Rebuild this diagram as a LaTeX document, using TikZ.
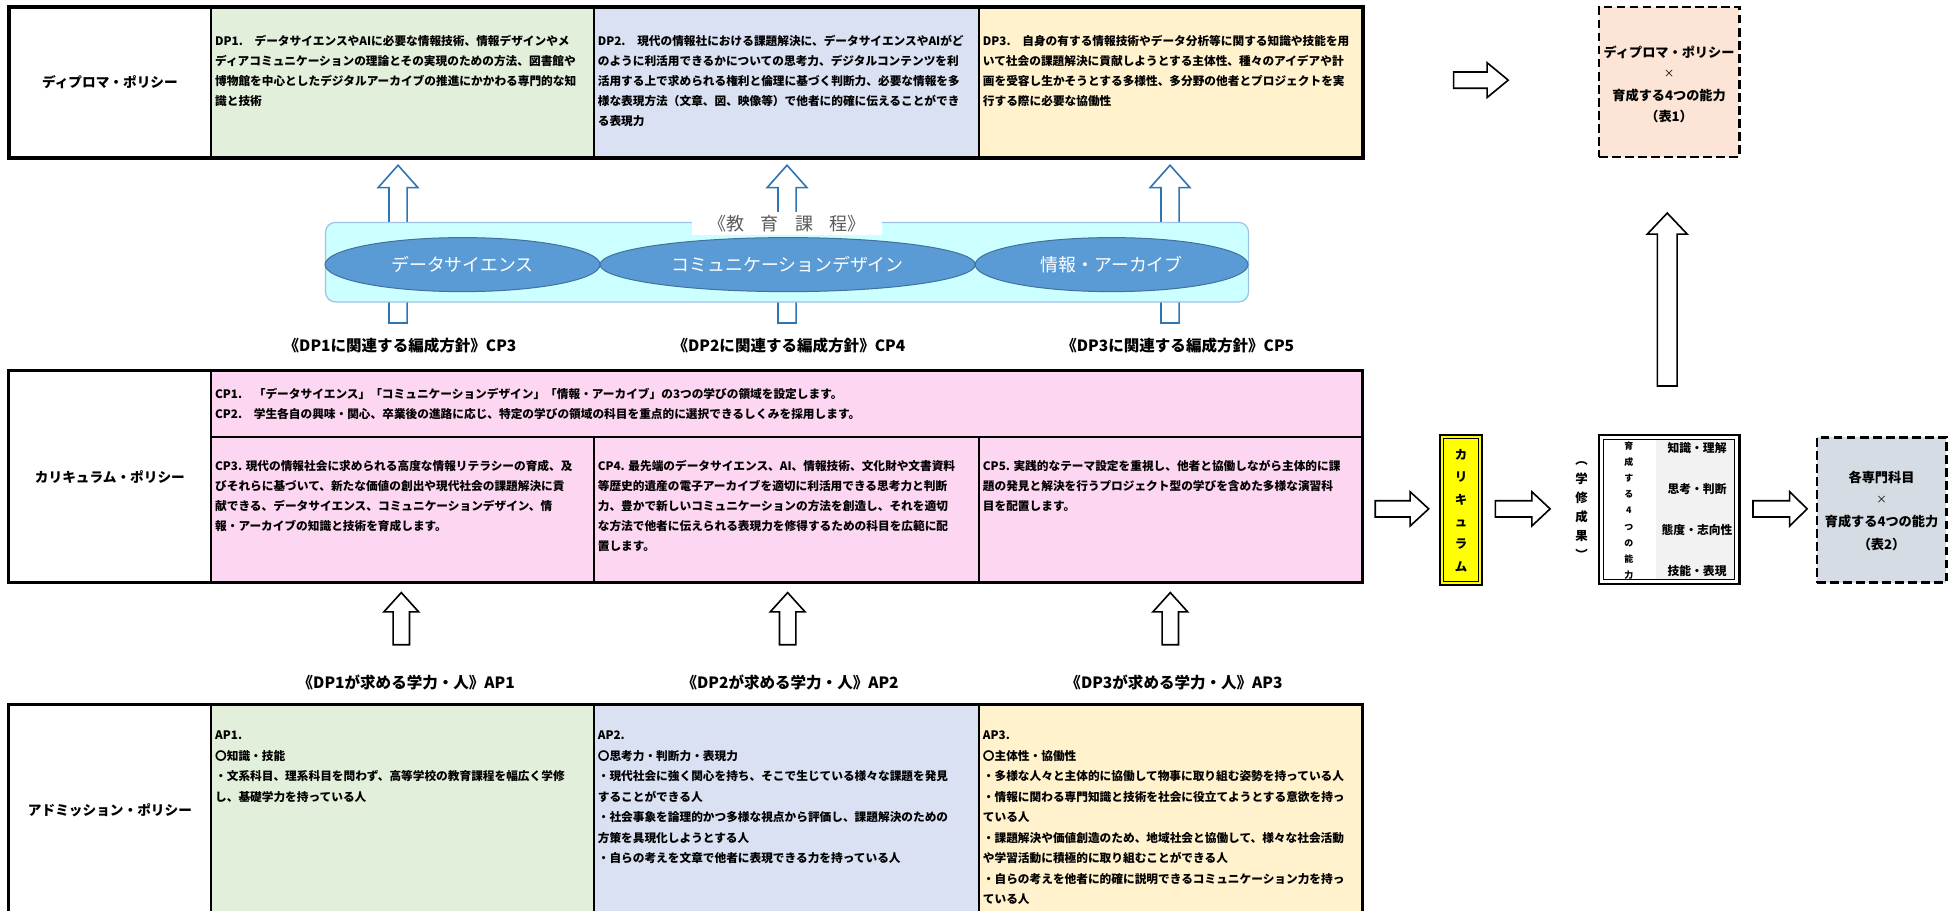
\documentclass[tikz,border=0pt]{standalone}
\usepackage{fontspec}
\setmainfont{Noto Sans CJK JP}
\usetikzlibrary{shapes.geometric}
\definecolor{dpgreen}{HTML}{E2EFDA}
\definecolor{dpblue}{HTML}{D9E1F2}
\definecolor{dpyellow}{HTML}{FFF2CC}
\definecolor{cppink}{HTML}{FDD7F1}
\definecolor{cyanbox}{HTML}{CCFFFF}
\definecolor{cyanline}{HTML}{9DC3E6}
\definecolor{ellfill}{HTML}{5B9BD5}
\definecolor{ellline}{HTML}{41719C}
\definecolor{bluearrow}{HTML}{2E75B6}
\definecolor{peach}{HTML}{FCE4D6}
\definecolor{graybox}{HTML}{D6DCE4}
\definecolor{lightgray}{HTML}{F2F2F2}
\definecolor{labelgray}{HTML}{595959}
\definecolor{ybox}{HTML}{FFFF00}
% up arrow: style, cx, tip y, head-base y, bottom y, half shaft, half head
\newcommand{\uparw}[7]{\draw[#1] (#2,#3) -- (#2+#7,#4) -- (#2+#6,#4) -- (#2+#6,#5) -- (#2-#6,#5) -- (#2-#6,#4) -- (#2-#7,#4) -- cycle;}
% right arrow: style, left x, tip x, head-base x, cy, half shaft, half head
\newcommand{\rtarw}[7]{\draw[#1] (#3,#5) -- (#4,#5-#7) -- (#4,#5-#6) -- (#2,#5-#6) -- (#2,#5+#6) -- (#4,#5+#6) -- (#4,#5+#7) -- cycle;}
\begin{document}
\begin{tikzpicture}[x=1pt,y=-1pt,line join=miter,
  cell/.style={anchor=north west, inner sep=0pt, align=left},
  dpfont/.style={font=\bfseries\fontsize{9.4}{16}\selectfont},
  cpfont/.style={font=\bfseries\fontsize{9.4}{16}\selectfont},
  apfont/.style={font=\bfseries\fontsize{9.4}{16.5}\selectfont},
  rowlabel/.style={inner sep=0pt, font=\bfseries\fontsize{11}{13}\selectfont},
  midlabel/.style={inner sep=0pt, font=\bfseries\fontsize{12.5}{15}\selectfont},
  ell/.style={ellipse, draw=ellline, fill=ellfill, line width=0.8pt, inner sep=0pt, minimum height=43.5, text=white, font=\fontsize{14.4}{16}\selectfont},
  hollow/.style={draw=black, fill=white, line width=1.3pt},
  bluehollow/.style={draw=bluearrow, fill=white, line width=1.3pt},
  dashbox/.style={draw=black, line width=2.2pt, dash pattern=on 7pt off 3.5pt},
  boxtext/.style={inner sep=0pt, font=\bfseries\fontsize{10.6}{13}\selectfont},
  timestext/.style={inner sep=0pt, font=\fontsize{8.5}{10}\selectfont},
  vtext/.style={inner sep=0pt, align=center}
]
\useasboundingbox (0,0) rectangle (1568,733);
\clip (0,0) rectangle (1568,733);
\fill[white] (0,0) rectangle (1568,733);

% ---------------- DP table ----------------
\fill[dpgreen] (170,5.6) rectangle (478,127);
\fill[dpblue] (478,5.6) rectangle (788,127);
\fill[dpyellow] (788,5.6) rectangle (1097,127);
\draw[line width=1.6pt] (170,5.6) -- (170,127) (478,5.6) -- (478,127) (788,5.6) -- (788,127);
\draw[line width=3pt] (7,5.6) rectangle (1097,127);
\node[rowlabel] (dplabel) at (88.5,66) {ディプロマ・ポリシー};
\node[cell,dpfont] (dp1) at (173,25.5) {\strut DP1.　データサイエンスやAIに必要な情報技術、情報デザインやメ\\ディアコミュニケーションの理論とその実現のための方法、図書館や\\博物館を中心としたデジタルアーカイブの推進にかかわる専門的な知\\識と技術};
\node[cell,dpfont] (dp2) at (481,25.5) {\strut DP2.　現代の情報社における課題解決に、データサイエンスやAIがど\\のように利活用できるかについての思考力、デジタルコンテンツを利\\活用する上で求められる権利と倫理に基づく判断力、必要な情報を多\\様な表現方法（文章、図、映像等）で他者に的確に伝えることができ\\る表現力};
\node[cell,dpfont] (dp3) at (791,25.5) {\strut DP3.　自身の有する情報技術やデータ分析等に関する知識や技能を用\\いて社会の課題解決に貢献しようとする主体性、種々のアイデアや計\\画を受容し生かそうとする多様性、多分野の他者とプロジェクトを実\\行する際に必要な協働性};

% right of DP
\rtarw{hollow}{1170}{1214}{1197}{64.5}{6.5}{14}
\node[dashbox, fill=peach, minimum width=113, minimum height=120.8, inner sep=0pt] (dpx) at (1343.5,66) {};
\node[boxtext] (dpx1) at (1343.5,42) {ディプロマ・ポリシー};
\node[timestext] (dpx2) at (1343.5,59.5) {×};
\node[boxtext] (dpx3) at (1343.5,76.5) {育成する4つの能力};
\node[boxtext] (dpx4) at (1343.5,93.5) {（表1）};

% ---------------- Curriculum band ----------------
\uparw{bluehollow}{320.4}{133}{151}{260}{7.3}{16}
\uparw{bluehollow}{633.5}{133}{151}{260}{7.3}{16}
\uparw{bluehollow}{941.8}{133}{151}{260}{7.3}{16}
\node[draw=cyanline, fill=cyanbox, rounded corners=8pt, line width=1pt, minimum width=743, minimum height=64, inner sep=0pt] (band) at (633.5,211) {};
\node[ell, minimum width=221.4] (e1) at (372.3,213) {データサイエンス};
\node[ell, minimum width=302] (e2) at (634,213) {コミュニケーションデザイン};
\node[ell, minimum width=219.6] (e3) at (894.8,213) {情報・アーカイブ};
\node[fill=white, inner sep=0pt, minimum width=153, minimum height=18, text=labelgray, font=\fontsize{14.5}{17}\selectfont] (kyoiku) at (633.5,180) {《教\hspace{0.9em}育\hspace{0.9em}課\hspace{0.9em}程》};

\node[midlabel] (cpl1) at (322,278) {《DP1に関連する編成方針》CP3};
\node[midlabel] (cpl2) at (635,278) {《DP2に関連する編成方針》CP4};
\node[midlabel] (cpl3) at (948,278) {《DP3に関連する編成方針》CP5};

% right column up arrow
\uparw{hollow}{1342}{171.5}{188.4}{310.7}{8}{16}

% ---------------- CP table ----------------
\fill[cppink] (170,298.5) rectangle (1097,469);
\draw[line width=1.6pt] (170,298.5) -- (170,469) (170,352) -- (1097,352) (478,352) -- (478,469) (788,352) -- (788,469);
\draw[line width=2.6pt] (7,298.5) rectangle (1097,469);
\node[rowlabel] (cplabel) at (88.5,384) {カリキュラム・ポリシー};
\node[cell,cpfont] (cp12) at (173,309.4) {\strut CP1.　「データサイエンス」「コミュニケーションデザイン」「情報・アーカイブ」の3つの学びの領域を設定します。\\CP2.　学生各自の興味・関心、卒業後の進路に応じ、特定の学びの領域の科目を重点的に選択できるしくみを採用します。};
\node[cell,cpfont] (cp3) at (173,367.4) {\strut CP3. 現代の情報社会に求められる高度な情報リテラシーの育成、及\\びそれらに基づいて、新たな価値の創出や現代社会の課題解決に貢\\献できる、データサイエンス、コミュニケーションデザイン、情\\報・アーカイブの知識と技術を育成します。};
\node[cell,cpfont] (cp4) at (481,367.4) {\strut CP4. 最先端のデータサイエンス、AI、情報技術、文化財や文書資料\\等歴史的遺産の電子アーカイブを適切に利活用できる思考力と判断\\力、豊かで新しいコミュニケーションの方法を創造し、それを適切\\な方法で他者に伝えられる表現力を修得するための科目を広範に配\\置します。};
\node[cell,cpfont] (cp5) at (791,367.4) {\strut CP5. 実践的なテーマ設定を重視し、他者と協働しながら主体的に課\\題の発見と解決を行うプロジェクト型の学びを含めた多様な演習科\\目を配置します。};

% right side of CP row
\rtarw{hollow}{1107}{1150}{1135}{409.6}{6.5}{13.8}
\fill[ybox] (1159,350) rectangle (1193,471);
\draw[line width=1.6pt] (1159,350) rectangle (1193,471);
\draw[line width=0.7pt] (1162.2,353.2) rectangle (1189.8,467.8);
\node[vtext, font=\bfseries\fontsize{10}{18}\selectfont] (kari) at (1176,411) {カ\\リ\\キ\\ュ\\ラ\\ム};
\rtarw{hollow}{1203.6}{1247.7}{1233}{409.6}{6.5}{13.8}
\node[vtext, font=\bfseries\fontsize{10}{15.2}\selectfont] (gakushu) at (1273,411) {︵\\学\\修\\成\\果\\︶};
\fill[white] (1287,350) rectangle (1400,470);
\fill[lightgray] (1333,353.5) rectangle (1396.5,466.5);
\draw[line width=2pt] (1287,350) rectangle (1400,470);
\draw[line width=0.7pt] (1290.6,353.6) rectangle (1396.4,466.4);
\node[vtext, font=\bfseries\fontsize{7.2}{13}\selectfont] (ikusei) at (1311,411) {育\\成\\す\\る\\4\\つ\\の\\能\\力};
\node[inner sep=0pt, font=\bfseries\fontsize{9.5}{11}\selectfont] (ab1) at (1366,361) {知識・理解};
\node[inner sep=0pt, font=\bfseries\fontsize{9.5}{11}\selectfont] (ab2) at (1366,394) {思考・判断};
\node[inner sep=0pt, font=\bfseries\fontsize{9.5}{11}\selectfont] (ab3) at (1366,427) {態度・志向性};
\node[inner sep=0pt, font=\bfseries\fontsize{9.5}{11}\selectfont] (ab4) at (1366,460) {技能・表現};
\rtarw{hollow}{1411}{1454.6}{1440.5}{409.6}{6.5}{13.8}
\node[dashbox, fill=graybox, minimum width=104, minimum height=117, inner sep=0pt] (senmon) at (1514.5,410.5) {};
\node[boxtext] (sm1) at (1514.5,384) {各専門科目};
\node[timestext] (sm2) at (1514.5,402) {×};
\node[boxtext] (sm3) at (1514.5,420) {育成する4つの能力};
\node[boxtext] (sm4) at (1514.5,438) {（表2）};

% ---------------- AP arrows and labels ----------------
\uparw{hollow}{323}{477}{492.5}{519}{6.6}{14}
\uparw{hollow}{634}{477}{492.5}{519}{6.6}{14}
\uparw{hollow}{942}{477}{492.5}{519}{6.6}{14}
\node[midlabel] (apl1) at (327,549) {《DP1が求める学力・人》AP1};
\node[midlabel] (apl2) at (636,549) {《DP2が求める学力・人》AP2};
\node[midlabel] (apl3) at (945,549) {《DP3が求める学力・人》AP3};

% ---------------- AP table ----------------
\fill[dpgreen] (170,567) rectangle (478,745);
\fill[dpblue] (478,567) rectangle (788,745);
\fill[dpyellow] (788,567) rectangle (1097,745);
\draw[line width=1.6pt] (170,567) -- (170,745) (478,567) -- (478,745) (788,567) -- (788,745);
\draw[line width=2.6pt] (7,567) rectangle (1097,745);
\node[rowlabel] (aplabel) at (88.5,652) {アドミッション・ポリシー};
\node[cell,apfont] (ap1) at (173,583.5) {\strut AP1.\\〇知識・技能\\・文系科目、理系科目を問わず、高等学校の教育課程を幅広く学修\\し、基礎学力を持っている人};
\node[cell,apfont] (ap2) at (481,583.5) {\strut AP2.\\〇思考力・判断力・表現力\\・現代社会に強く関心を持ち、そこで生じている様々な課題を発見\\することができる人\\・社会事象を論理的かつ多様な視点から評価し、課題解決のための\\方策を具現化しようとする人\\・自らの考えを文章で他者に表現できる力を持っている人};
\node[cell,apfont] (ap3) at (791,583.5) {\strut AP3.\\〇主体性・協働性\\・多様な人々と主体的に協働して物事に取り組む姿勢を持っている人\\・情報に関わる専門知識と技術を社会に役立てようとする意欲を持っ\\ている人\\・課題解決や価値創造のため、地域社会と協働して、様々な社会活動\\や学習活動に積極的に取り組むことができる人\\・自らの考えを他者に的確に説明できるコミュニケーション力を持っ\\ている人};
\end{tikzpicture}
\end{document}
